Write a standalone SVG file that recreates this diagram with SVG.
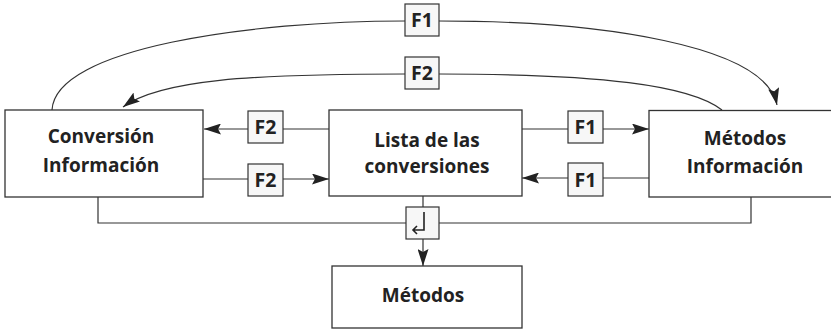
<svg xmlns="http://www.w3.org/2000/svg" width="831" height="329" viewBox="0 0 831 329">
<style>
.box{fill:#fff;stroke:#333;stroke-width:1.3}
.lbl{fill:#f7f7f7;stroke:#333;stroke-width:1.2}
.ln{fill:none;stroke:#333;stroke-width:1.2}
.t{font-family:"Open Sans","Noto Sans",sans-serif;font-weight:bold;font-size:19px;fill:#222;text-anchor:middle}
.f{font-family:"Open Sans","Noto Sans",sans-serif;font-weight:bold;font-size:19.5px;fill:#222;text-anchor:middle}
</style>
<defs>
<marker id="ah" viewBox="0 0 17 11" refX="17" refY="5.5" markerWidth="17" markerHeight="11" markerUnits="userSpaceOnUse" orient="auto">
<path d="M0,0 L17,5.5 L0,11 L3,5.5 Z" fill="#222"/>
</marker>
</defs>
<g id="connectors">
<path class="ln" d="M52,110 C55,48 250,21 405,21"/>
<path class="ln" d="M439,21 C600,21 765,45 777,105" marker-end="url(#ah)"/>
<path class="ln" d="M722,110 C690,85 600,74 439,74"/>
<path class="ln" d="M405,74 C250,74 160,80 123,107" marker-end="url(#ah)"/>
<path class="ln" d="M329,129 H283"/>
<path class="ln" d="M248,129 H204" marker-end="url(#ah)"/>
<path class="ln" d="M203,179 H248"/>
<path class="ln" d="M283,179 H329" marker-end="url(#ah)"/>
<path class="ln" d="M522,129 H568"/>
<path class="ln" d="M603,129 H649" marker-end="url(#ah)"/>
<path class="ln" d="M649,178 H603"/>
<path class="ln" d="M568,178 H522" marker-end="url(#ah)"/>
<path class="ln" d="M98,197 V223 H751 V197"/>
<path class="ln" d="M423,196 V207"/>
<path class="ln" d="M423,239 V266" marker-end="url(#ah)"/>
</g>
<g id="label-f1-top"><rect class="lbl" x="405" y="4" width="34" height="32"/><text class="f" x="422" y="27">F1</text></g>
<g id="label-f2-top"><rect class="lbl" x="405" y="57" width="34" height="32"/><text class="f" x="422" y="80">F2</text></g>
<g id="label-f2-a"><rect class="lbl" x="248" y="111" width="35" height="32"/><text class="f" x="265.5" y="134">F2</text></g>
<g id="label-f2-b"><rect class="lbl" x="248" y="164" width="35" height="32"/><text class="f" x="265.5" y="187">F2</text></g>
<g id="label-f1-a"><rect class="lbl" x="568" y="111" width="35" height="32"/><text class="f" x="585.5" y="134">F1</text></g>
<g id="label-f1-b"><rect class="lbl" x="568" y="163" width="35" height="33"/><text class="f" x="585.5" y="186.5">F1</text></g>
<g id="enter">
<rect class="lbl" x="406" y="207" width="33" height="32"/>
<path fill="none" stroke="#222" stroke-width="1.6" d="M424,212 V230 H413 M417,226 L413,230 L417,234"/>
</g>
<g id="conversion-informacion">
<rect class="box" x="5" y="110" width="198" height="87"/>
<text class="t" x="101" y="143">Conversión</text>
<text class="t" x="101" y="172">Información</text>
</g>
<g id="lista-conversiones">
<rect class="box" x="329" y="110" width="193" height="86"/>
<text class="t" x="427" y="147">Lista de las</text>
<text class="t" x="427" y="173">conversiones</text>
</g>
<g id="metodos-informacion">
<rect class="box" x="649" y="110.5" width="200" height="86.5"/>
<text class="t" x="745" y="145">Métodos</text>
<text class="t" x="745" y="173">Información</text>
</g>
<g id="metodos">
<rect class="box" x="332" y="266" width="190" height="62"/>
<text class="t" x="423" y="302">Métodos</text>
</g>
</svg>
